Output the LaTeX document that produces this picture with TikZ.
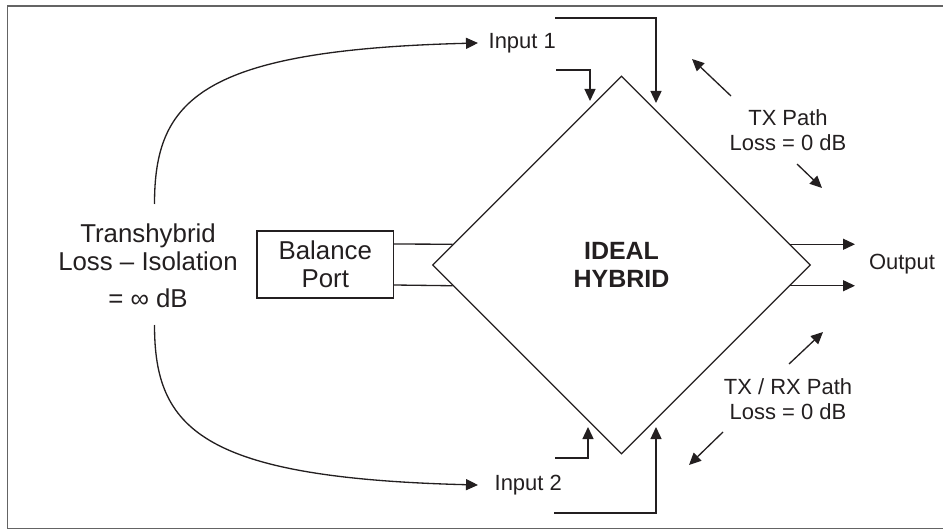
\documentclass[tikz,border=0pt]{standalone}
\usepackage{fontspec}
\setmainfont{Liberation Sans}
\usetikzlibrary{shapes.geometric,arrows.meta}
\definecolor{ink}{RGB}{35,31,32}
\definecolor{framegray}{RGB}{100,100,100}
\tikzstyle{port} = [font=\fontsize{12.5}{14.2}\selectfont, align=center, text=ink]
\tikzstyle{biglabel} = [font=\fontsize{14.7}{15.9}\selectfont, align=center, text=ink]
\tikzstyle{hybrid} = [diamond, draw=ink, aspect=1, minimum size=7.56cm, inner sep=0pt, font=\bfseries\fontsize{14.2}{16.4}\selectfont, align=center, text=ink]
\tikzstyle{balbox} = [draw=ink, minimum width=2.73cm, minimum height=1.34cm, inner sep=0pt, font=\fontsize{14.7}{15.9}\selectfont, align=center, text=ink]
\tikzstyle{arr} = [-{Triangle[length=0.24cm,width=0.22cm]}]

\begin{document}
\begin{tikzpicture}[line width=0.75pt, draw=ink]
		\useasboundingbox (0,0) rectangle (18.86,10.62);
		\draw[framegray, line width=0.9pt] (18.86,10.5) -- (0.15,10.5) -- (0.15,0.05) -- (18.86,0.05);
		\node[hybrid] (hyb) at (12.43,5.32) {IDEAL\\HYBRID};
		\node[balbox] (bal) at (6.505,5.33) {Balance\\Port};
		\node[biglabel] (th) at (2.96,5.3) {Transhybrid\\Loss -- Isolation\\[0.18cm]= ∞ dB};
		\node[port, anchor=west, inner sep=0.2cm] (in1) at (9.56,9.76) {Input 1};
		\node[port, anchor=west, inner xsep=0.32cm] (in2) at (9.56,0.92) {Input 2};
		\node[port] (out) at (18.04,5.34) {Output};
		\node[port] (tx) at (15.76,8.01) {TX Path\\Loss = 0 dB};
		\node[port] (txrx) at (15.76,2.63) {TX / RX Path\\Loss = 0 dB};
		\coordinate (thup) at (3.09,6.54);
		\coordinate (thdn) at (3.09,4.12);
		\coordinate (outx) at (17.1,0);
		\coordinate (a1) at (11.12,9.22);
		\coordinate (t1) at (11.8,8.6);
		\coordinate (a2) at (11.1,10.26);
		\coordinate (t2) at (13.12,8.56);
		\coordinate (b1) at (11.1,1.46);
		\coordinate (u1) at (11.76,2.08);
		\coordinate (b2) at (11.08,0.36);
		\coordinate (u2) at (13.12,2.08);
		\coordinate (p1) at (14.62,8.7);
		\coordinate (q1) at (13.84,9.44);
		\coordinate (p2) at (15.94,7.34);
		\coordinate (q2) at (16.44,6.86);
		\coordinate (p3) at (15.78,3.34);
		\coordinate (q3) at (16.46,3.98);
		\coordinate (p4) at (14.46,1.98);
		\coordinate (q4) at (13.78,1.32);
		\draw[arr] (thup) .. controls (3.09,8.62) and (4.0,9.62) .. (in1.west);
		\draw[arr] (thdn) .. controls (3.09,2.06) and (4.0,1.06) .. (in2.west);
		\draw ([yshift=0.41cm]bal.east) -- (hyb.173);
		\draw ([yshift=-0.41cm]bal.east) -- (hyb.187);
		\draw[arr] (hyb.7) -- (hyb.7 -| outx);
		\draw[arr] (hyb.-7) -- (hyb.-7 -| outx);
		\draw[arr] (a1) -| (t1);
		\draw[arr] (a2) -| (t2);
		\draw[arr] (b1) -| (u1);
		\draw[arr] (b2) -| (u2);
		\draw[arr] (p1) -- (q1);
		\draw[arr] (p2) -- (q2);
		\draw[arr] (p3) -- (q3);
		\draw[arr] (p4) -- (q4);
		\end{tikzpicture}
\end{document}
